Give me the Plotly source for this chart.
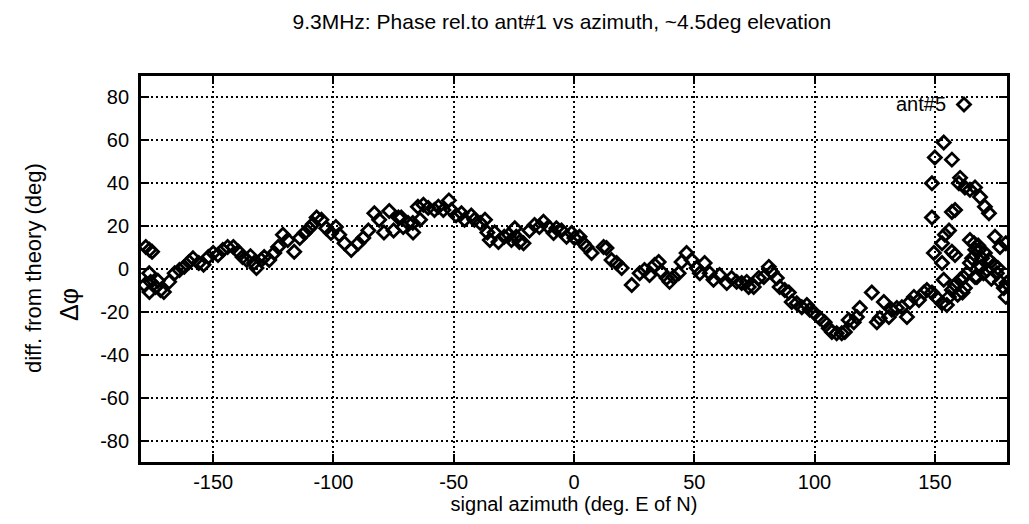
import plotly.graph_objects as go

# azimuth (deg E of N) and phase difference from theory (deg), ant#5
azimuth = [
    -178.0, -176.5, -175.4, -178.5, -176.0, -176.5, -176.6, -174.0, -173.0, -171.9,
    -170.5, -168.3, -166.0, -164.0, -162.0, -160.0, -158.4, -156.0, -154.0, -152.0,
    -150.0, -148.0, -146.0, -144.0, -141.6, -139.5, -137.8, -136.0, -134.5, -133.0,
    -132.0, -130.0, -128.8, -126.7, -124.6, -123.0, -121.0, -119.0, -116.3, -114.0,
    -112.0, -110.0, -108.5, -107.0, -105.0, -103.0, -101.0, -99.0, -97.6, -95.4,
    -92.6, -89.7, -87.6, -85.5, -83.0, -81.0, -79.0, -76.8, -75.0, -73.0,
    -71.8, -71.0, -69.0, -67.0, -66.9, -64.9, -64.0, -62.6, -60.6, -58.0,
    -56.4, -54.3, -52.0, -51.0, -49.0, -46.8, -45.5, -42.7, -41.4, -39.0,
    -37.0, -36.0, -35.0, -33.0, -31.4, -29.0, -27.0, -26.0, -24.6, -24.0,
    -22.7, -21.0, -18.5, -16.4, -14.4, -12.7, -10.6, -8.5, -7.3, -5.2,
    -3.1, -1.0, 0.2, 2.3, 3.9, 5.2, 7.3, 12.3, 13.5, 15.6,
    17.7, 19.8, 24.0, 27.3, 29.3, 31.4, 33.5, 35.2, 36.4, 38.5,
    39.7, 41.4, 43.5, 44.7, 46.8, 48.9, 51.0, 52.3, 54.3, 56.4,
    58.0, 60.5, 63.5, 65.5, 67.6, 69.7, 71.8, 72.6, 74.7, 76.8,
    78.9, 81.0, 82.2, 84.3, 85.5, 87.6, 89.3, 90.5, 92.6, 94.7,
    96.8, 98.0, 100.0, 102.2, 104.2, 105.9, 107.2, 109.2, 111.3, 112.6,
    114.2, 116.3, 117.6, 118.8, 123.8, 125.9, 127.1, 128.8, 130.9, 132.1,
    134.2, 136.3, 138.4, 139.6, 141.3, 143.4, 145.5, 146.7, 148.8, 150.9,
    153.0, 155.0, 155.9, 157.1, 158.4, 160.5, 162.5, 163.3, 164.6, 166.3,
    164.6, 168.3, 169.6, 167.5, 170.8, 172.5, 171.7, 174.6, 175.8, 177.1,
    178.7, 179.5, 179.8, 161.5, 165.5, 166.8, 168.0, 169.2, 170.2, 173.5,
    176.2, 159.5, 162.0,
    148.8, 148.8, 150.0, 153.7, 157.1, 160.5, 160.0, 162.5, 164.6, 166.7,
    168.8, 170.8, 172.5, 158.4, 157.1, 155.9, 154.2, 153.0, 149.6, 153.0,
    153.7, 157.1, 158.4, 175.0, 177.1, 179.5, 166.7,
]
phase_diff = [
    10.3, 9.0, 8.0, -7.5, -6.0, -10.7, -2.0, -8.4, -5.5, -9.8,
    -10.7, -6.0, -2.0, -0.5, 1.0, 3.3, 5.0, 2.8, 2.0, 5.6,
    7.5, 6.5, 8.9, 10.3, 10.3, 8.0, 5.6, 4.2, 6.0, 2.8,
    0.5, 4.2, 5.6, 4.2, 7.5, 10.3, 16.0, 13.5, 8.0, 14.5,
    16.8, 19.0, 21.0, 24.0, 23.0, 19.0, 16.8, 19.6, 16.0, 12.0,
    8.9, 12.0, 14.5, 18.0, 26.0, 23.0, 17.0, 27.0, 18.0, 24.0,
    24.0, 19.6, 21.5, 21.5, 17.0, 29.0, 23.0, 30.0, 28.5, 27.5,
    29.0, 27.5, 32.0, 27.5, 25.0, 26.0, 23.0, 25.0, 23.0, 21.5,
    23.0, 17.0, 13.5, 17.0, 12.6, 15.0, 16.0, 13.5, 19.0, 15.0,
    12.6, 12.0, 18.0, 20.5, 19.6, 22.0, 19.6, 16.8, 19.0, 18.0,
    15.0, 16.8, 14.5, 15.0, 12.0, 10.3, 7.5, 10.3, 9.8, 4.2,
    2.8, 0.5, -7.5, -2.0, -0.5, -2.8, 1.9, 3.3, -1.4, -4.2,
    -6.0, -3.7, -2.0, 3.3, 7.5, 4.2, 0.5, -2.0, 2.8, -2.0,
    -5.0, -2.8, -6.5, -4.2, -6.0, -6.5, -6.0, -8.4, -8.4, -4.2,
    -3.7, 1.0, -1.4, -4.2, -8.4, -9.8, -11.0, -15.4, -16.0, -17.8,
    -16.8, -19.0, -20.6, -23.0, -24.8, -27.6, -29.4, -30.0, -30.0, -29.4,
    -23.8, -24.8, -22.4, -18.2, -11.0, -24.8, -23.0, -15.4, -22.4, -19.0,
    -18.2, -17.8, -22.4, -15.4, -13.0, -14.5, -11.0, -9.8, -11.0, -13.5,
    -16.0, -16.8, -13.0, -9.8, -7.5, -5.0, -8.9, -2.0, 2.8, 12.0,
    13.5, 8.9, 5.0, -3.7, 7.5, 4.2, -0.5, 1.9, -2.0, -6.0,
    -8.9, -13.0, -6.5, -11.0, 5.0, 9.0, 11.0, 1.0, -2.0, -4.5,
    0.5, -12.0, -4.0,
    24.0, 40.0, 52.0, 59.0, 51.0, 42.5, 40.0, 38.0, 37.0, 38.0,
    33.6, 29.0, 26.0, 27.5, 26.6, 18.0, 16.0, 12.0, 7.5, 2.8,
    -5.0, 8.0, 6.5, 15.0, 10.3, 12.0, -3.7,
]

x_ticks = [-150, -100, -50, 0, 50, 100, 150]
x_tick_labels = ["-150", "-100", "-50", "0", "50", "100", "150"]
y_ticks = [-80, -60, -40, -20, 0, 20, 40, 60, 80]
y_tick_labels = ["-80", "-60", "-40", "-20", "0", "20", "40", "60", "80"]

FONT = "Liberation Sans, Arial, sans-serif"

fig = go.Figure()
fig.add_trace(go.Scatter(
    x=azimuth, y=phase_diff, mode="markers", name=" ",
    hovertemplate="ant#5<br>az=%{x}<br>Δφ=%{y}<extra></extra>",
    marker=dict(symbol="diamond-open", size=10, color="black",
                line=dict(color="black", width=2.8)),
))

axis_common = dict(
    showline=True, linecolor="black", linewidth=2.8, mirror="ticks",
    ticks="inside", ticklen=8, tickwidth=2, tickcolor="black",
    showgrid=True, gridcolor="black", gridwidth=1.5, griddash="2px,3px",
    zeroline=False, tickfont=dict(family=FONT, size=20, color="black"),
)

fig.update_layout(
    width=1029, height=524,
    margin=dict(l=141, r=22, t=76, b=62, autoexpand=False),
    paper_bgcolor="white", plot_bgcolor="white",
    font=dict(family=FONT, color="black"),
    title=dict(text="9.3MHz: Phase rel.to ant#1 vs azimuth, ~4.5deg elevation",
               x=0.486, xref="paper", xanchor="center", y=0.958, yanchor="middle",
               font=dict(family=FONT, size=21, color="black")),
    xaxis=dict(range=[-180, 180], tickvals=x_ticks, ticktext=x_tick_labels, **axis_common,
               title=dict(text="signal azimuth (deg. E of N)", standoff=2,
                          font=dict(family=FONT, size=20, color="black"))),
    yaxis=dict(range=[-90, 90], tickvals=y_ticks, ticktext=y_tick_labels,
               ticklabelstandoff=5, **axis_common),
    showlegend=True,
    legend=dict(x=(944 - 141) / 866, y=(462 - 85) / 386, xanchor="left", yanchor="top",
                bgcolor="rgba(0,0,0,0)", borderwidth=0,
                font=dict(family=FONT, size=20, color="black")),
)

fig.add_annotation(text="ant#5", xref="paper", yref="paper",
                   x=(948 - 141) / 866, y=(462 - 104) / 386,
                   xanchor="right", yanchor="middle", showarrow=False,
                   font=dict(family=FONT, size=20, color="black"))
fig.add_annotation(text="diff. from theory (deg)", textangle=-90,
                   xref="paper", yref="paper", x=(33 - 141) / 866, y=(462 - 268) / 386,
                   xanchor="center", yanchor="middle", showarrow=False,
                   font=dict(family=FONT, size=22, color="black"))
fig.add_annotation(text="Δφ", textangle=-90,
                   xref="paper", yref="paper", x=(69 - 141) / 866, y=(462 - 305) / 386,
                   xanchor="center", yanchor="middle", showarrow=False,
                   font=dict(family=FONT, size=25, color="black"))

fig.write_html("out.html")
